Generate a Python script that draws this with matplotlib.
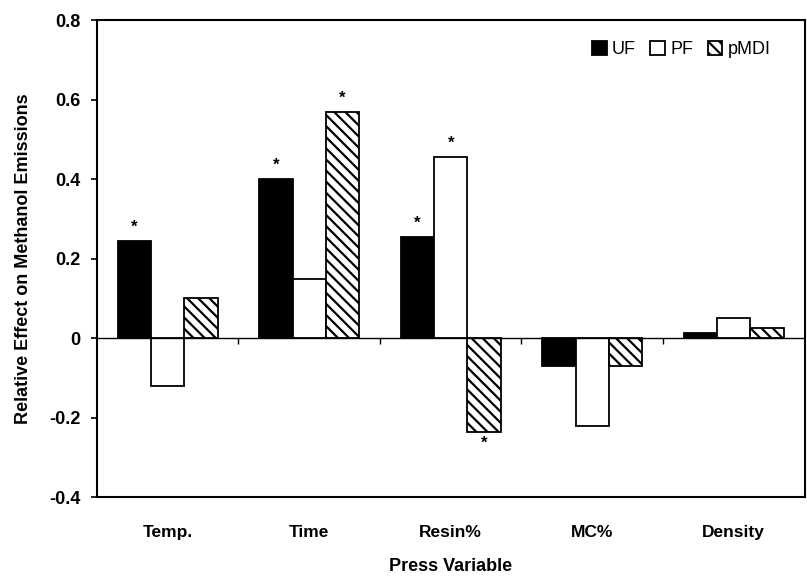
import numpy as np
import matplotlib.pyplot as plt

plt.rcParams['font.family'] = ['Liberation Sans', 'DejaVu Sans']
plt.rcParams['hatch.linewidth'] = 1.6

# --- data
categories = ["Temp.", "Time", "Resin%", "MC%", "Density"]
series = ["UF", "PF", "pMDI"]
uf = [0.245, 0.40, 0.255, -0.07, 0.013]
pf = [-0.12, 0.148, 0.455, -0.22, 0.05]
pmdi = [0.10, 0.57, -0.235, -0.07, 0.025]
# significance stars: (category index, series index)
stars = [(0, 0), (1, 0), (1, 2), (2, 0), (2, 1), (2, 2)]

fig = plt.figure(figsize=(8.07, 5.8), dpi=100)
ax = fig.add_axes([0.120, 0.143, 0.877, 0.822])

x = np.arange(len(categories))
w = 0.235
values = [uf, pf, pmdi]
styles = [dict(color="black", edgecolor="black"),
          dict(color="white", edgecolor="black"),
          dict(color="white", edgecolor="black", hatch="\\\\\\")]
for i, (vals, st) in enumerate(zip(values, styles)):
    ax.bar(x + (i - 1) * w, vals, w, linewidth=1.3, label=series[i], **st)

for ci, si in stars:
    v = values[si][ci]
    xp = x[ci] + (si - 1) * w
    if v >= 0:
        ax.text(xp, v + 0.035, "*", ha="center", va="center", fontsize=12, fontweight="bold")
    else:
        ax.text(xp, v - 0.03, "*", ha="center", va="center", fontsize=12, fontweight="bold")

ax.axhline(0, color="black", linewidth=1.0)
# category separator ticks on zero line
ax.vlines(x[:-1] + 0.5, -0.015, 0, color="black", linewidth=1.0)

ax.set_xlim(-0.5, len(categories) - 0.5)
ax.set_ylim(-0.4, 0.8)
ax.set_yticks([-0.4, -0.2, 0, 0.2, 0.4, 0.6, 0.8])
ax.set_yticklabels(["-0.4", "-0.2", "0", "0.2", "0.4", "0.6", "0.8"], fontsize=13, fontweight="bold")
ax.set_xticks(x)
ax.set_xticklabels(categories, fontsize=12.5, fontweight="bold")
ax.tick_params(axis="x", length=0, pad=20)
ax.tick_params(axis="y", length=4, width=1.2, direction="out", pad=8)
for s in ax.spines.values():
    s.set_linewidth(1.5)

ax.set_xlabel("Press Variable", fontsize=13, fontweight="bold")
ax.xaxis.set_label_coords(0.5, -0.128)
ax.set_ylabel("Relative Effect on Methanol Emissions", fontsize=13, fontweight="bold", labelpad=12)

ax.legend(loc="upper right", bbox_to_anchor=(0.975, 0.99), ncol=3, frameon=False,
          fontsize=13, handlelength=0.8, handleheight=0.8, handletextpad=0.3,
          columnspacing=0.8)

fig.savefig("out.png", dpi=100)
